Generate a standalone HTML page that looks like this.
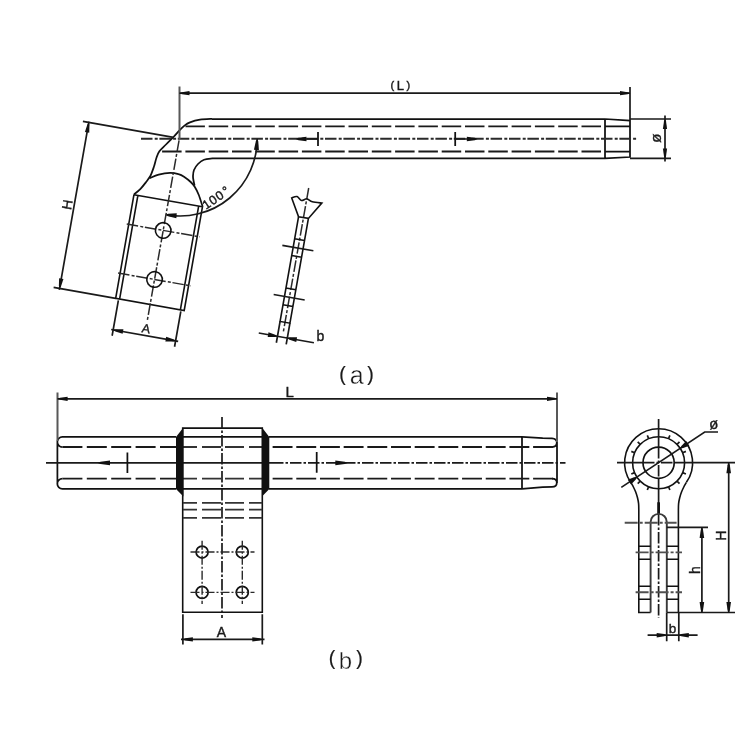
<!DOCTYPE html>
<html lang="en">
<head>
<meta charset="utf-8">
<title>Terminal connector drawing</title>
<style>
html,body{margin:0;padding:0;background:#fff}
body{width:750px;height:750px;overflow:hidden}
svg{display:block;filter:blur(0.45px)}
text,.t{font-family:"Liberation Sans",sans-serif;fill:#1a1a1a;stroke:#1a1a1a;stroke-width:0.4}
.o{stroke:#111;stroke-width:1.75;fill:none}
.h{stroke:#1a1a1a;stroke-width:1.85;fill:none;stroke-dasharray:19.5 3.8}
.h2{stroke:#333;stroke-width:1.8;fill:none;stroke-dasharray:14 5 19 4 19 5 14 0}
.c{stroke:#2a2a2a;stroke-width:2;fill:none;stroke-dasharray:11.5 2.2 3 1.7}
.c2{stroke:#2a2a2a;stroke-width:1.4;fill:none;stroke-dasharray:9 2 2 2}
.c3{stroke:#505050;stroke-width:1.9;fill:none;stroke-dasharray:13 2 3 2}
.cb{stroke:#1a1a1a;stroke-width:1.7;fill:none;stroke-dasharray:11.5 2 2.5 2}
.d{stroke:#1a1a1a;stroke-width:1.7;fill:none}
.dg{stroke:#585858;stroke-width:2;fill:none}
.a{fill:#111;stroke:none}
.sv .o{stroke-width:1.6}
.pl .o{stroke-width:1.6}
.pl .c{stroke:#2a2a2a;stroke-width:1.5}
.cap{stroke:#fff;stroke-width:0.4}
.cap .p{stroke:#1a1a1a;stroke-width:0.2}
</style>
</head>
<body>
<svg width="750" height="750" viewBox="0 0 750 750">
<rect width="750" height="750" fill="#fff"/>
<g id="fig-a">
<path class="o" d="M212,119 H605 M212,158.4 H605 M605,119 V158.4 M605,119 L630,120.6 V157 L605,158.4"/>
<path class="o" d="M605,126.4 H630 M605,151.6 H630"/>
<path class="h" d="M601,126.4 H185.5"/>
<path class="h" d="M601,151.5 H161.5"/>
<path class="c" d="M141,138.8 H637.5"/>
<path class="o" d="M212.0,118.9 C210.0,119.0 203.7,119.1 200.0,119.7 C196.3,120.3 192.6,121.4 190.0,122.4 C187.4,123.4 186.2,124.3 184.5,125.6 C182.8,126.9 181.3,128.5 179.5,130.4 C177.7,132.3 175.8,134.7 173.5,137.0 C171.2,139.3 168.3,142.1 166.0,144.5 C163.7,146.9 161.0,148.9 159.4,151.2 C157.8,153.4 157.3,155.4 156.4,158.0 C155.5,160.6 155.0,163.6 154.0,166.5 C153.0,169.4 151.8,173.0 150.6,175.5 C149.3,178.0 148.2,179.3 146.5,181.5 C144.8,183.7 142.6,186.7 140.5,188.8 C138.4,191.0 135.1,193.5 134.0,194.4"/>
<path class="o" d="M212.0,158.4 C210.7,158.6 206.3,158.9 204.0,159.8 C201.7,160.7 199.7,162.3 198.0,164.0 C196.3,165.7 194.8,168.0 194.0,170.0 C193.2,172.0 193.1,174.2 193.0,176.0 C192.9,177.8 193.3,179.4 193.6,181.0 C193.9,182.6 194.4,184.8 194.6,185.5"/>
<path class="o" d="M149.6,178.2 C151.1,177.6 155.3,175.5 158.7,174.6 C162.1,173.7 166.7,172.9 170.0,172.8 C173.3,172.7 176.2,173.5 178.5,174.2 C180.8,174.8 182.0,175.4 184.0,176.7 C186.0,178.0 188.9,180.3 190.7,182.0 C192.5,183.7 193.4,184.6 194.7,186.7 C196.0,188.8 197.4,191.4 198.7,194.7 C200.0,198.0 202.0,204.7 202.7,206.7"/>
<g class="pl" transform="translate(134,194.4) rotate(10)">
<path class="o" d="M0,0 V105.6 H69.6 V0 M0,0.3 H69.6 M4,0.5 V105.6 M65.7,0.5 V105.6"/>
<path class="c" d="M35,-61 V123"/>
<path class="c" d="M-2,30.4 H72 M-2,80.2 H72"/>
<circle class="o" cx="35" cy="30.4" r="7.8"/><circle class="o" cx="35" cy="80.2" r="7.8"/>
<path class="d" d="M3,107 V143 M66.4,107 V143 M1,137 H69"/>
<path class="a" transform="translate(3.0,137.0) rotate(180.0)" d="M0.3,0 L-2.5,-1.15 L-10.0,-2.3 L-10.0,2.3 L-2.5,1.15 Z"/>
<path class="a" transform="translate(66.4,137.0) rotate(0.0)" d="M0.3,0 L-2.5,-1.15 L-10.0,-2.3 L-10.0,2.3 L-2.5,1.15 Z"/>
<text class="t" x="35.2" y="134.2" font-size="12.5" text-anchor="middle">A</text>
<path class="d" d="M-63,-63 H29 M-63,105.6 H0 M-57,-64 V107"/>
<path class="a" transform="translate(-57.0,-63.0) rotate(-90.0)" d="M0.3,0 L-2.5,-1.10 L-10.0,-2.2 L-10.0,2.2 L-2.5,1.10 Z"/>
<path class="a" transform="translate(-57.0,105.6) rotate(90.0)" d="M0.3,0 L-2.5,-1.10 L-10.0,-2.2 L-10.0,2.2 L-2.5,1.10 Z"/>
<text class="t" transform="translate(-59.3,21.6) rotate(-90)" font-size="13.5" text-anchor="middle">H</text>
</g>
<path class="d" d="M257.2,139.0 A77.0,77.0 0 0 1 166.8,214.8"/>
<path class="a" transform="translate(257.2,139.0) rotate(-86.0)" d="M0.3,0 L-2.5,-1.25 L-11.0,-2.5 L-11.0,2.5 L-2.5,1.25 Z"/>
<path class="a" transform="translate(165.6,214.8) rotate(185.0)" d="M0.3,0 L-2.5,-1.25 L-11.0,-2.5 L-11.0,2.5 L-2.5,1.25 Z"/>
<text class="t" transform="translate(206,209.8) rotate(-34)" font-size="12.5" x="0 7.9 15.8 24.7" y="0 0 0 -0.5">100°</text>
<path class="dg" d="M179.5,86.5 V139"/>
<path class="d" d="M630,87 V120 M179.5,93.2 H630"/>
<path class="a" transform="translate(179.5,93.2) rotate(180.0)" d="M0.3,0 L-2.5,-1.05 L-10.0,-2.1 L-10.0,2.1 L-2.5,1.05 Z"/>
<path class="a" transform="translate(630.0,93.2) rotate(0.0)" d="M0.3,0 L-2.5,-1.05 L-10.0,-2.1 L-10.0,2.1 L-2.5,1.05 Z"/>
<text class="t" y="90.4" font-size="13" text-anchor="middle"><tspan x="392.3" y="88.6" font-size="11">(</tspan><tspan x="400.3" y="90.4">L</tspan><tspan x="408.4" y="88.6" font-size="11">)</tspan></text>
<path class="d" d="M630,119 H671 M630,158.4 H671 M665,115.5 V161.5"/>
<path class="a" transform="translate(665.0,119.0) rotate(-90.0)" d="M0.3,0 L-2.5,-1.05 L-10.0,-2.1 L-10.0,2.1 L-2.5,1.05 Z"/>
<path class="a" transform="translate(665.0,158.4) rotate(90.0)" d="M0.3,0 L-2.5,-1.05 L-10.0,-2.1 L-10.0,2.1 L-2.5,1.05 Z"/>
<text class="t" transform="translate(661,138.2) rotate(-90)" font-size="15" text-anchor="middle">ø</text>
<path class="o" d="M318,132 V146 M455.2,132 V146"/>
<path class="d" d="M300,139 H318 M455.2,139 H473"/>
<path class="a" transform="translate(296.0,139.0) rotate(180.0)" d="M0.3,0 L-2.5,-1.15 L-10.5,-2.3 L-10.5,2.3 L-2.5,1.15 Z"/>
<path class="a" transform="translate(477.3,139.0) rotate(0.0)" d="M0.3,0 L-2.5,-1.15 L-10.5,-2.3 L-10.5,2.3 L-2.5,1.15 Z"/>
<g class="pl" transform="translate(308.7,188) rotate(10)">
<path class="c" d="M0,0 V146"/>
<path class="o" d="M-15.0,12.7 C-14.2,12.3 -11.7,10.2 -10.0,10.4 C-8.3,10.6 -6.7,13.5 -5.0,13.6 C-3.3,13.7 -1.8,11.1 0.0,11.0 C1.8,10.9 3.4,12.8 6.0,13.0 C8.6,13.2 13.9,12.6 15.5,12.5 L5,30 L-5,30 Z"/>
<path class="o" d="M-5,30 V136.4 H5 V30 M-5,52.5 H5 M-5,69.5 H5 M-5,102.5 H5 M-5,119.5 H5"/>
<path class="d" d="M-16,61 H15.5 M-16,111 H15.5 M-5,136.4 V158 M5,136.4 V158 M-24,151.5 H32"/>
<path class="a" transform="translate(-5.0,151.5) rotate(0.0)" d="M0.3,0 L-2.5,-1.20 L-9.5,-2.4 L-9.5,2.4 L-2.5,1.20 Z"/>
<path class="a" transform="translate(5.0,151.5) rotate(180.0)" d="M0.3,0 L-2.5,-1.20 L-9.5,-2.4 L-9.5,2.4 L-2.5,1.20 Z"/>
</g>
<text class="t" x="320.3" y="340.7" font-size="14" text-anchor="middle">b</text>
<text class="t cap" font-size="25" text-anchor="middle"><tspan class="p" x="342.6" y="381" font-size="19.5">(</tspan><tspan x="356.6" y="384.4">a</tspan><tspan class="p" x="370.4" y="381" font-size="19.5">)</tspan></text>
</g>
<g id="fig-b">
<path class="o" d="M176,436.9 H62.4 A5.05,5.05 0 0 0 62.4,447 M176,488.8 H62.4 A5.1,5.1 0 0 1 62.4,478.6 M57.4,441 V484.5"/>
<path class="o" d="M183,436.9 H262.3 M183,488.8 H262.3 M269,436.9 H522 M269,488.8 H522 M522,436.9 V488.8"/>
<path class="o" d="M522,436.9 L542.7,438.1 L552,438.4 Q556.8,438.6 556.8,442.6 Q556.8,447 552,447 M522,488.8 L542.7,487.2 L552,486.9 Q556.8,486.7 556.8,482.7 Q556.8,478.6 552,478.6 M557,442 V483"/>
<path class="h" d="M62.4,447 H176 M62.4,478.6 H176" style="stroke-dasharray:20 4.4"/>
<path class="h2" d="M183,447 H262.3 M183,478.6 H262.3"/>
<path class="h" d="M553,447 H269 M553,478.6 H269" style="stroke-dasharray:19.9 3.78"/>
<path class="d" d="M46,462.9 H272"/>
<path class="cb" d="M272,462.9 H565.5"/>
<path class="o" style="stroke-width:1.6" d="M182.7,428.1 H262.3 V612.3 H182.7 Z"/>
<path class="a" d="M176,437 L183.4,427.6 V496.5 L176,489 Z M262,427.6 L269.3,437 V489 L262,496.5 Z"/>
<path class="h2" d="M183,502.8 H262.3 M183,509.7 H262.3 M183,517.8 H262.3"/>
<path class="cb" d="M222,417 V618"/>
<circle class="o" cx="202.1" cy="552" r="6"/>
<circle class="o" cx="202.1" cy="592.4" r="6"/>
<circle class="o" cx="242.3" cy="552" r="6"/>
<circle class="o" cx="242.3" cy="592.4" r="6"/>
<path class="c2" d="M190.5,552 H254.5 M190.5,592.4 H254.5 M202.1,540.7 V604 M242.3,540.7 V604"/>
<path class="d" d="M182.9,614.3 V644.6 M262.3,614.3 V644.6 M181,639.4 H264.5"/>
<path class="a" transform="translate(182.9,639.4) rotate(180.0)" d="M0.3,0 L-2.5,-1.05 L-10.0,-2.1 L-10.0,2.1 L-2.5,1.05 Z"/>
<path class="a" transform="translate(262.3,639.4) rotate(0.0)" d="M0.3,0 L-2.5,-1.05 L-10.0,-2.1 L-10.0,2.1 L-2.5,1.05 Z"/>
<text class="t" x="221.5" y="636.8" font-size="14" text-anchor="middle">A</text>
<path class="dg" d="M57.5,392.5 V441 M557,392.5 V442"/>
<path class="d" d="M57.6,398.8 H557"/>
<path class="a" transform="translate(57.6,398.8) rotate(180.0)" d="M0.3,0 L-2.5,-1.05 L-10.0,-2.1 L-10.0,2.1 L-2.5,1.05 Z"/>
<path class="a" transform="translate(557.0,398.8) rotate(0.0)" d="M0.3,0 L-2.5,-1.05 L-10.0,-2.1 L-10.0,2.1 L-2.5,1.05 Z"/>
<text class="t" x="285.4" y="396.7" font-size="15">L</text>
<path class="o" d="M127.4,452.6 V473 M316.7,452 V472.8"/>
<path class="a" transform="translate(98.0,462.9) rotate(180.0)" d="M0.3,0 L-2.5,-1.20 L-12.0,-2.4 L-12.0,2.4 L-2.5,1.20 Z"/>
<path class="a" transform="translate(347.3,462.9) rotate(0.0)" d="M0.3,0 L-2.5,-1.20 L-12.0,-2.4 L-12.0,2.4 L-2.5,1.20 Z"/>
<g class="sv">
<path class="o" d="M630.8,482.3 A34,34 0 1 1 686.4,482.3"/><circle class="o" cx="658.6" cy="462.7" r="26"/><circle class="o" style="stroke-width:1.7" cx="658.6" cy="462.7" r="15.6"/>
<path class="d" d="M682.6,472.6 L685.9,474.0 M677.0,481.1 L679.5,483.6 M668.5,486.7 L669.9,490.0 M648.7,486.7 L647.3,490.0 M640.2,481.1 L637.7,483.6 M634.6,472.6 L631.3,474.0 M634.6,452.8 L631.3,451.4 M640.2,444.3 L637.7,441.8 M648.7,438.7 L647.3,435.4 M668.5,438.7 L669.9,435.4 M677.0,444.3 L679.5,441.8 M682.6,452.8 L685.9,451.4"/>
<path class="d" d="M617,462.7 H643 M674.2,462.7 H735 M658.6,419 V447 M658.6,478.3 V503"/>
<path class="cb" d="M643,462.7 H674.2 M658.6,447 V478.3"/>
<path class="cb" d="M658.6,514 V618"/>
<path class="o" style="stroke-width:2.8" d="M658.6,502.3 V514"/>
<path class="d" d="M621.3,487.4 L704.7,432 H718"/>
<path class="a" transform="translate(680.3,448.3) rotate(146.4)" d="M0.3,0 L-2.5,-1.45 L-9.0,-2.9 L-9.0,2.9 L-2.5,1.45 Z"/>
<path class="a" transform="translate(636.9,477.1) rotate(-33.6)" d="M0.3,0 L-2.5,-1.45 L-9.0,-2.9 L-9.0,2.9 L-2.5,1.45 Z"/>
<text class="t" transform="translate(714.3,428.9) rotate(-8)" font-size="15" text-anchor="middle">ø</text>
<path class="o" d="M630.8,482.3 C631.2,483.1 632.6,485.4 633.4,487.0 C634.2,488.6 634.9,490.0 635.6,491.8 C636.3,493.6 637.0,495.8 637.5,497.8 C638.0,499.8 638.4,501.6 638.6,503.6 C638.8,505.6 638.8,508.9 638.8,510.0 V612.5 H650.6"/>
<path class="o" d="M686.4,482.3 C686.0,483.1 684.6,485.4 683.8,487.0 C683.0,488.6 682.3,490.0 681.6,491.8 C680.9,493.6 680.2,495.8 679.7,497.8 C679.2,499.8 678.8,501.6 678.6,503.6 C678.4,505.6 678.4,508.9 678.4,510.0 V612.5"/>
<path class="o" style="stroke:#3a3a3a;stroke-width:1.9" d="M650.6,612.5 V522 A8.1,8.1 0 0 1 666.8,522 V612.5"/>
<path class="c3" d="M624.7,522.8 H676.6"/>
<path class="o" d="M638.8,546.3 H650.6 M638.8,559.3 H650.6 M666.8,546.3 H678.6 M666.8,559.3 H678.6 M638.8,586.2 H650.6 M638.8,599.2 H650.6 M666.8,586.2 H678.6 M666.8,599.2 H678.6"/>
<path class="c3" d="M635.6,552.4 H682 M635.6,592.3 H682"/>
</g>
<path class="d" d="M666.8,527.4 H708 M666.8,612.5 H735 M701.9,527.4 V612.5 M728.7,462.7 V612.5"/>
<path class="a" transform="translate(701.9,527.4) rotate(-90.0)" d="M0.3,0 L-2.5,-1.15 L-10.5,-2.3 L-10.5,2.3 L-2.5,1.15 Z"/>
<path class="a" transform="translate(701.9,612.5) rotate(90.0)" d="M0.3,0 L-2.5,-1.15 L-10.5,-2.3 L-10.5,2.3 L-2.5,1.15 Z"/>
<path class="a" transform="translate(728.7,462.7) rotate(-90.0)" d="M0.3,0 L-2.5,-1.15 L-10.5,-2.3 L-10.5,2.3 L-2.5,1.15 Z"/>
<path class="a" transform="translate(728.7,612.5) rotate(90.0)" d="M0.3,0 L-2.5,-1.15 L-10.5,-2.3 L-10.5,2.3 L-2.5,1.15 Z"/>
<text class="t" transform="translate(726,535.8) rotate(-90)" font-size="14" text-anchor="middle">H</text>
<text class="t" transform="translate(699.5,570.2) rotate(-90)" font-size="14" text-anchor="middle">h</text>
<path class="d" d="M666.7,612.5 V641.3 M678.8,612.5 V641.3 M647.6,635.2 H697.6"/>
<path class="a" transform="translate(666.7,635.2) rotate(0.0)" d="M0.3,0 L-2.5,-1.15 L-10.0,-2.3 L-10.0,2.3 L-2.5,1.15 Z"/>
<path class="a" transform="translate(678.8,635.2) rotate(180.0)" d="M0.3,0 L-2.5,-1.15 L-10.0,-2.3 L-10.0,2.3 L-2.5,1.15 Z"/>
<text class="t" x="672.6" y="633" font-size="13.5" text-anchor="middle">b</text>
<text class="t cap" font-size="24" text-anchor="middle"><tspan class="p" x="332" y="665.3" font-size="19.5">(</tspan><tspan x="345.4" y="669">b</tspan><tspan class="p" x="359.5" y="665.3" font-size="19.5">)</tspan></text>
</g>
</svg>
</body>
</html>
